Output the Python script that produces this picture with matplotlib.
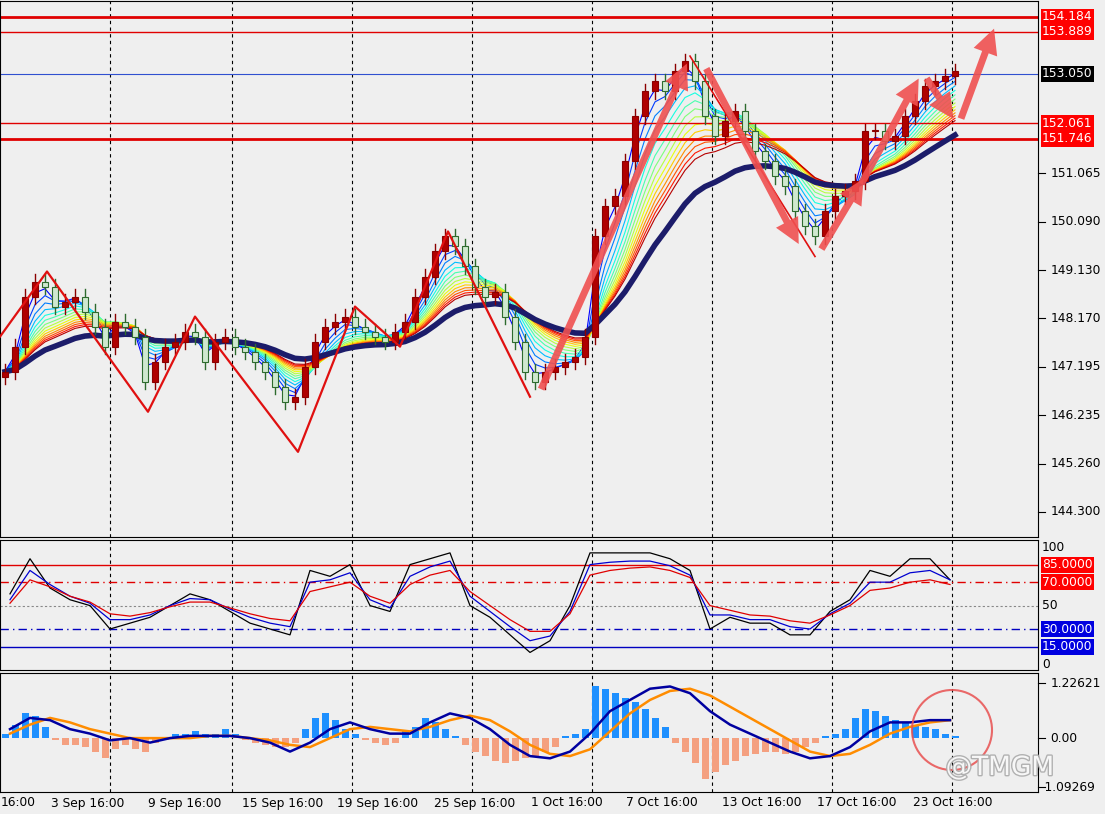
import numpy as np
import pandas as pd
import matplotlib
matplotlib.use("Agg")
import matplotlib.pyplot as plt
import matplotlib.patheffects as pe
from matplotlib.patches import Ellipse
from matplotlib.transforms import blended_transform_factory

# closes, one bar every 10 px
closes = [147.1, 147.6, 148.6, 148.9, 148.8, 148.4, 148.5, 148.6, 148.3, 148.0,
          147.6, 148.1, 148.0, 147.8, 146.9, 147.3, 147.6, 147.7, 147.9, 147.8,
          147.3, 147.7, 147.8, 147.6, 147.5, 147.3, 147.1, 146.8, 146.5, 146.6,
          147.2, 147.7, 148.0, 148.1, 148.2, 148.0, 147.9, 147.8, 147.7, 147.9,
          148.1, 148.6, 149.0, 149.5, 149.8, 149.6, 149.2, 148.8, 148.6, 148.7,
          148.2, 147.7, 147.1, 146.9, 147.1, 147.2, 147.3, 147.4, 147.8, 149.8,
          150.4, 150.6, 151.3, 152.2, 152.7, 152.9, 152.7, 153.1, 153.3, 152.9,
          152.2, 151.8, 152.1, 152.3, 151.9, 151.5, 151.3, 151.0, 150.8, 150.3,
          150.0, 149.8, 150.3, 150.6, 150.7, 150.9, 151.9, 151.9, 151.7, 151.8,
          152.2, 152.5, 152.8, 152.9, 153.0, 153.1]
first_open = 147.0

# zigzag (bar index, price)
zz_x = [-0.5, 4.2, 14.3, 19.0, 29.3, 35.0, 39.5, 44.3, 52.5]
zz_p = [147.8, 149.1, 146.3, 148.2, 145.5, 148.4, 147.6, 149.9, 146.6]
zz2_x = [68.5, 81.0]
zz2_p = [153.4, 149.4]

arrows = [(53.5, 146.7, 68.3, 153.3), (70.0, 153.2, 79.5, 149.6),
          (81.5, 149.5, 86.0, 151.0), (85.5, 150.8, 91.5, 153.0),
          (92.0, 153.0, 95.0, 152.1), (95.5, 152.1, 99.0, 154.0)]

hlines_main = [(154.184, "#e00000", 2.0, "154.184", "#ff0000"),
               (153.889, "#e00000", 1.0, "153.889", "#ff0000"),
               (153.050, "#3050d0", 0.8, "153.050", "#000000"),
               (152.061, "#e00000", 1.0, "152.061", "#ff0000"),
               (151.746, "#e00000", 2.0, "151.746", "#ff0000")]
price_ticks = [151.065, 150.090, 149.130, 148.170, 147.195, 146.235, 145.260, 144.300]

# oscillator, one point every 20 px
osc_black = [60, 90, 65, 55, 50, 30, 35, 40, 50, 60, 55, 45, 35, 30, 25, 80, 75, 85, 50, 45,
             85, 90, 95, 50, 40, 25, 10, 20, 50, 95, 95, 95, 95, 90, 80, 30, 40, 35, 35, 25,
             25, 45, 55, 80, 75, 90, 90, 72]
osc_blue = [55, 80, 68, 58, 52, 38, 38, 42, 50, 56, 55, 47, 40, 35, 32, 70, 72, 78, 55, 48,
            75, 83, 88, 58, 45, 32, 20, 24, 45, 85, 87, 88, 88, 84, 76, 42, 42, 38, 38, 32,
            30, 43, 52, 70, 70, 78, 80, 72]
osc_red = [52, 72, 66, 58, 53, 43, 41, 44, 49, 53, 53, 48, 43, 39, 37, 62, 66, 70, 58, 52,
           68, 76, 80, 62, 50, 38, 28, 28, 43, 76, 80, 82, 83, 80, 74, 50, 46, 42, 41, 37,
           35, 42, 50, 63, 65, 70, 72, 68]

# macd histogram (10 px), macd and signal lines (20 px)
macd_hist = [0.1, 0.3, 0.55, 0.5, 0.25, -0.05, -0.15, -0.15, -0.2, -0.3,
             -0.45, -0.25, -0.15, -0.25, -0.3, -0.1, -0.05, 0.1, 0.1, 0.15,
             0.1, 0.1, 0.2, 0.1, -0.05, -0.1, -0.15, -0.2, -0.2, -0.1,
             0.2, 0.45, 0.55, 0.4, 0.2, 0.1, -0.05, -0.1, -0.15, -0.1,
             0.15, 0.25, 0.45, 0.35, 0.2, 0.05, -0.15, -0.3, -0.4, -0.5,
             -0.55, -0.5, -0.45, -0.4, -0.3, -0.2, 0.05, 0.1, 0.2, 1.15,
             1.1, 1.0, 0.9, 0.8, 0.65, 0.45, 0.25, -0.1, -0.3, -0.55,
             -0.9, -0.75, -0.6, -0.5, -0.4, -0.35, -0.3, -0.3, -0.35, -0.3,
             -0.2, -0.1, 0.05, 0.1, 0.2, 0.45, 0.65, 0.6, 0.5, 0.4,
             0.35, 0.3, 0.25, 0.2, 0.1, 0.05]
macd_line = [0.2, 0.45, 0.4, 0.2, 0.1, -0.05, 0.0, -0.1, 0.0, 0.05, 0.05, 0.05, 0.0, -0.1,
             -0.3, -0.1, 0.2, 0.35, 0.2, 0.1, 0.1, 0.35, 0.55, 0.45, 0.2, -0.15, -0.4, -0.45,
             -0.3, 0.1, 0.6, 0.85, 1.1, 1.15, 1.0, 0.6, 0.3, 0.1, -0.1, -0.3, -0.45, -0.4,
             -0.2, 0.15, 0.35, 0.35, 0.4, 0.4]
macd_signal = [0.1, 0.3, 0.45, 0.35, 0.2, 0.1, 0.0, 0.0, 0.0, 0.0, 0.05, 0.05, 0.0, -0.05,
               -0.15, -0.2, 0.0, 0.2, 0.25, 0.2, 0.15, 0.25, 0.4, 0.5, 0.4, 0.15, -0.15, -0.35,
               -0.4, -0.25, 0.15, 0.55, 0.85, 1.05, 1.1, 0.95, 0.7, 0.45, 0.2, -0.05, -0.3, -0.4,
               -0.35, -0.15, 0.1, 0.25, 0.35, 0.4]

date_labels = ["16:00", "3 Sep 16:00", "9 Sep 16:00", "15 Sep 16:00", "19 Sep 16:00",
               "25 Sep 16:00", "1 Oct 16:00", "7 Oct 16:00", "13 Oct 16:00",
               "17 Oct 16:00", "23 Oct 16:00"]
date_px = [18, 88, 185, 283, 378, 475, 567, 662, 762, 857, 953]
grid_px = [110, 232, 352, 472, 592, 712, 832, 952]

W, H = 1105, 814
BG = "#efefef"
FS = 8.8
fig = plt.figure(figsize=(W / 100, H / 100), dpi=100, facecolor=BG)
R = 1038 / W


def px2x(p):
    return (p - 5) / 10.0


def mk_ax(top, bot):
    ax = fig.add_axes([0, 1 - bot / H, R, (bot - top) / H], facecolor=BG)
    ax.set_xlim(px2x(0), px2x(1038))
    ax.set_xticks([])
    ax.set_yticks([])
    for s in ax.spines.values():
        s.set_color("black")
    for g in grid_px:
        ax.axvline(px2x(g), color="black", ls=(0, (3, 3)), lw=0.8, zorder=1)
    return ax


def box_label(ax, y, text, fc, tc="white"):
    tr = blended_transform_factory(ax.transAxes, ax.transData)
    ax.text(1.004, y, text, transform=tr, va="center", ha="left", fontsize=FS,
            color=tc, bbox=dict(boxstyle="square,pad=0.12", fc=fc, ec="none"), clip_on=False)


def plain_label(ax, y, text, x=1.012):
    tr = blended_transform_factory(ax.transAxes, ax.transData)
    ax.text(x, y, text, transform=tr, va="center", ha="left", fontsize=FS,
            color="black", clip_on=False)
    ax.plot([1.0, 1.007], [y, y], transform=tr, color="black", lw=0.8, clip_on=False)


# ---------- main price panel ----------
ax = mk_ax(1, 537)
ax.set_ylim(143.8, 154.5)
n = len(closes)
idx = np.arange(n)
c = pd.Series(closes)
opens = [first_open] + closes[:-1]

for p, col in zip(range(2, 16), plt.cm.jet(np.linspace(0.12, 0.95, 14))):
    ax.plot(idx, c.ewm(span=p, adjust=False).mean(), color=col, lw=0.8, zorder=2)
ax.plot(idx, c.ewm(span=22, adjust=False).mean(), color="#1c1c6a", lw=4, zorder=3)

for i in range(n):
    o, cl = opens[i], closes[i]
    lo, hi = min(o, cl), max(o, cl)
    up = cl >= o
    ax.plot([i, i], [lo - 0.15, hi + 0.15], color="#8b0000" if up else "#2e6b2e", lw=1, zorder=4)
    ax.bar(i, max(hi - lo, 0.03), bottom=lo, width=0.55, zorder=5,
           color="#b00000" if up else "#cfe8cf", edgecolor="#8b0000" if up else "#2e6b2e", lw=0.8)

ax.plot(zz_x, zz_p, color="#e01010", lw=1.6, zorder=6)
ax.plot(zz2_x, zz2_p, color="#e01010", lw=1.2, zorder=6)
for x0, y0, x1, y1 in arrows:
    ax.annotate("", xy=(x1, y1), xytext=(x0, y0), zorder=7,
                arrowprops=dict(arrowstyle="simple,head_length=1.8,head_width=1.8,tail_width=0.5",
                                fc="#f05050", ec="none", alpha=0.9))

for y, col, lw, txt, fc in hlines_main:
    ax.axhline(y, color=col, lw=lw, zorder=2)
    box_label(ax, y, txt, fc)
for y in price_ticks:
    plain_label(ax, y, f"{y:.3f}")

# ---------- oscillator panel ----------
ax2 = mk_ax(540, 670)
ax2.set_ylim(-5, 106)
ox = px2x(np.arange(len(osc_black)) * 20 + 10)
ax2.axhline(85, color="#e00000", lw=1)
ax2.axhline(70, color="#e00000", lw=1, ls=(0, (6, 3, 1, 3)))
ax2.axhline(50, color="#888888", lw=0.8, ls=(0, (2, 2)))
ax2.axhline(30, color="#0000c0", lw=1, ls=(0, (6, 3, 1, 3)))
ax2.axhline(15, color="#0000c0", lw=1)
ax2.plot(ox, osc_black, color="black", lw=0.9)
ax2.plot(ox, osc_blue, color="#0000d0", lw=0.9)
ax2.plot(ox, osc_red, color="#e00000", lw=0.9)
for y in (100, 50, 0):
    tr = blended_transform_factory(ax2.transAxes, ax2.transData)
    ax2.text(1.004, y, str(y), transform=tr, va="center", ha="left", fontsize=FS, clip_on=False)
box_label(ax2, 85, "85.0000", "#ff0000")
box_label(ax2, 70, "70.0000", "#ff0000")
box_label(ax2, 30, "30.0000", "#0000e0")
box_label(ax2, 15, "15.0000", "#0000e0")

# ---------- macd panel ----------
ax3 = mk_ax(673, 792)
ax3.set_ylim(-1.2, 1.45)
hcol = ["#1e90ff" if v >= 0 else "#f4a080" for v in macd_hist]
ax3.bar(idx, macd_hist, width=0.7, color=hcol, zorder=2)
mx = px2x(np.arange(len(macd_line)) * 20 + 10)
ax3.plot(mx, macd_signal, color="#ff8c00", lw=1.8, zorder=3)
ax3.plot(mx, macd_line, color="#0000a0", lw=1.8, zorder=4)
plain_label(ax3, 1.22621, "1.22621")
plain_label(ax3, 0.0, "0.00")
plain_label(ax3, -1.09269, "-1.09269", x=1.002)
fig.patches.append(Ellipse((952 / W, 1 - 730 / H), 80 / W, 80 / H, transform=fig.transFigure,
                           fill=False, ec="#e85050", lw=1.5, alpha=0.85))
fig.text(1000 / W, 1 - 768 / H, "@TMGM", fontsize=19, color="white", ha="center", va="center",
         alpha=0.9, path_effects=[pe.withStroke(linewidth=2, foreground="#aaaaaa")])

# ---------- date axis ----------
for p, t in zip(date_px, date_labels):
    fig.text(p / W, 1 - 803 / H, t, ha="center", va="center", fontsize=FS)

fig.savefig("out.png", dpi=100, facecolor=BG)
